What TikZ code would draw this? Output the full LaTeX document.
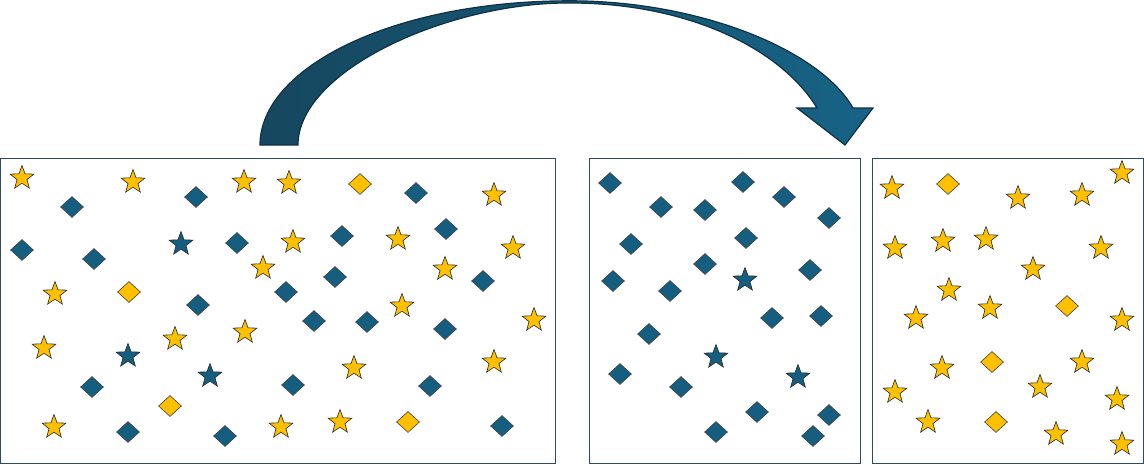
\documentclass[tikz,border=0pt]{standalone}
\usepackage{tikz}
\usetikzlibrary{shapes.geometric}
\definecolor{teal}{HTML}{155E80}
\definecolor{gold}{HTML}{FFC000}
\definecolor{frame}{HTML}{2F4A5C}
\definecolor{arrdark}{HTML}{16475F}
\definecolor{arrlight}{HTML}{176386}
\definecolor{arrline}{HTML}{0E3143}

\begin{document}
\begin{tikzpicture}[x=1pt,y=-1pt,
    starbase/.style={star,star points=5,star point ratio=2.4,minimum size=25pt,inner sep=0pt,draw=black!85,line width=0.6pt},
    diambase/.style={diamond,minimum width=23pt,minimum height=21pt,inner sep=0pt,draw=black!75,line width=0.6pt},
    ystar/.style={starbase,fill=gold},
    bstar/.style={starbase,fill=teal},
    ydiam/.style={diambase,fill=gold},
    bdiam/.style={diambase,fill=teal},
    box/.style={draw=frame,line width=1pt}]
  \useasboundingbox (0,0) rectangle (1144,464);
  % the three boxes
  \draw[box] (0.5,158) rectangle (555,463.5);
  \draw[box] (589,158) rectangle (860.5,463.5);
  \draw[box] (872,158) rectangle (1143.5,463.5);
  % curved arrow
  \coordinate (baseL) at (260,145);
  \coordinate (baseR) at (298,145);
  \coordinate (top) at (570,0.8);
  \coordinate (tip) at (845,145);
  \shade[left color=arrdark,right color=arrlight,draw=arrline,line width=1.2pt,line join=miter]
    (baseL) .. controls (260,68) and (392,0.8) .. (top)
    .. controls (700,0.8) and (820,50) .. (853,108) -- (873,108) -- (tip) -- (797,108) -- (817,108)
    .. controls (782,50) and (690,3) .. (570,3)
    .. controls (450,2) and (298,70) .. (baseR) -- cycle;
  % left box
  \foreach \p [count=\i] in {(22,178),(133,182),(244,182),(263,268),(55,294),(289,183),(494,195),
      (293,242),(398,239),(513,248),(445,269),(402,306),(44,348),(175,339),(245,332),(54,427),
      (281,427),(534,320),(354,368),(494,362),(340,422)}
    \node[ystar] (ls\i) at \p {};
  \foreach \p [count=\i] in {(181,244),(128,356),(210,376)}
    \node[bstar] (lb\i) at \p {};
  \foreach \p [count=\i] in {(129,292),(360,184),(170,406),(408,422)}
    \node[ydiam] (ld\i) at \p {};
  \foreach \p [count=\i] in {(72,207),(196,197),(22,250),(94,259),(237,243),(198,305),(416,193),
      (342,236),(446,229),(335,277),(483,281),(286,292),(314,321),(367,322),(445,329),(293,385),
      (430,386),(502,426),(92,387),(128,432),(225,436)}
    \node[bdiam] (lq\i) at \p {};
  % middle box
  \foreach \p [count=\i] in {(610,183),(661,207),(705,210),(743,182),(784,197),(829,218),(631,244),
      (746,238),(705,264),(810,270),(613,281),(670,291),(772,318),(821,316),(649,334),(620,374),
      (681,387),(757,412),(829,415),(716,432),(813,436)}
    \node[bdiam] (mq\i) at \p {};
  \foreach \p [count=\i] in {(745,280),(716,357),(798,377)}
    \node[bstar] (mb\i) at \p {};
  % right box
  \foreach \p [count=\i] in {(892,188),(1018,198),(1082,195),(1122,173),(895,248),(943,241),(986,239),
      (1101,248),(1033,269),(949,290),(916,318),(990,308),(1122,320),(942,368),(1082,362),(895,392),
      (1040,387),(1117,399),(928,422),(1056,434),(1122,444)}
    \node[ystar] (rs\i) at \p {};
  \foreach \p [count=\i] in {(948,184),(1067,306),(992,362),(996,422)}
    \node[ydiam] (rd\i) at \p {};
\end{tikzpicture}
\end{document}
